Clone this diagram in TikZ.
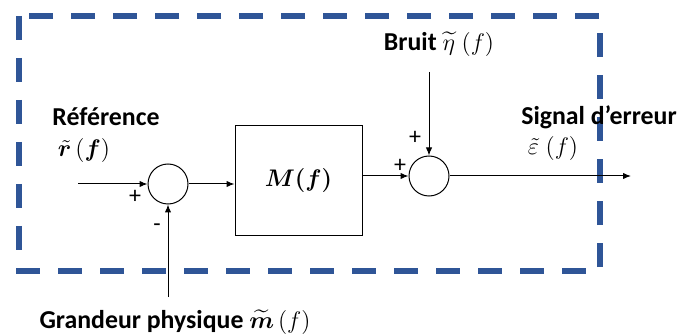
\documentclass[tikz,border=0pt]{standalone}
\usepackage{amsmath,amssymb,bm}
\usepackage{fontspec}
\setmainfont{Carlito}
\usepackage{xcolor}
\definecolor{frameblue}{RGB}{47,85,151}
\usetikzlibrary{arrows.meta,positioning}

\begin{document}
\begin{tikzpicture}[x=0.5pt, y=-0.5pt, >={Latex[length=4pt,width=3.2pt]},
  every node/.style={font=\fontsize{12.9}{15}\selectfont\bfseries, inner sep=0.5pt},
  sig/.style={->, line width=0.5pt},
  sumnode/.style={draw, circle, line width=0.5pt, minimum size=20pt, inner sep=0pt},
  block/.style={draw, line width=0.5pt, minimum width=63.5pt, minimum height=54.5pt,
    font=\fontsize{12}{14}\selectfont},
  sign/.style={font=\fontsize{12}{14}\selectfont, inner sep=0pt}]
\useasboundingbox (0,0) rectangle (679,336);
% dashed frame
\draw[frameblue, line width=2.6pt, dash pattern=on 12pt off 9pt] (19,16) rectangle (600,271);
% blocks
\node[sumnode] (s1) at (168,184) {};
\node[block] (M) at (298.5,180.5) {$\bm{M(f)}$};
\node[sumnode] (s2) at (429,176) {};
\coordinate (in) at (78,184);
\coordinate (out) at (631,176);
\coordinate (nz) at (429,72);
\coordinate (ms) at (168,297);
% signals
\draw[sig] (in) -- (s1.west);
\draw[sig] (s1.east) -- (M.west |- s1);
\draw[sig] (M.east |- s2) -- (s2.west);
\draw[sig] (s2.east) -- (out);
\draw[sig] (nz) -- (s2.north);
\draw[sig] (ms) -- (s1.south);
% labels
\node (reflbl) at (106,117) {Référence};
\node (refsym) at (84,151) {$\tilde{\bm{r}}\,(\bm{f})$};
\node (noise) at (439,44) {Bruit $\widetilde{\eta}\;(f)$};
\node (errlbl) at (599,117) {Signal d’erreur};
\node (errsym) at (553,149) {$\tilde{\varepsilon}\;(f)$};
\node (meas) at (175,322) {Grandeur physique $\widetilde{\bm{m}}\,(f)$};
% signs
\node[sign] (p1) at (135,197) {+};
\node[sign] (m1) at (157,228) {-};
\node[sign] (p2) at (415,138) {+};
\node[sign] (p3) at (400,166) {+};
\end{tikzpicture}
\end{document}
